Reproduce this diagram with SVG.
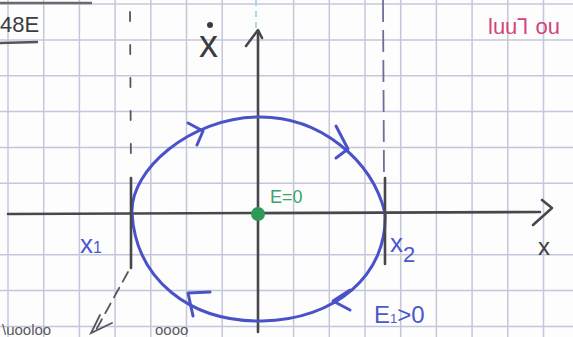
<svg xmlns="http://www.w3.org/2000/svg" width="573" height="337" viewBox="0 0 573 337">
<style>
.grid line{stroke:#c4c7d9;stroke-width:1.5}
.axis{stroke:#48484c;stroke-width:2.6;fill:none;stroke-linecap:round;stroke-linejoin:round}
.orbit{stroke:#4a52c8;stroke-width:3;fill:none;stroke-linecap:round;stroke-linejoin:round}
.dash{stroke:#55565e;stroke-width:1.8;fill:none;stroke-linecap:round}
.blue{fill:#4b57cc;font-family:"Liberation Sans",sans-serif}
.ink{fill:#3c3c40;font-family:"Liberation Sans",sans-serif}
</style>
<rect width="573" height="337" fill="#fdfdfe"/>
<g class="grid">
<line x1="8" y1="0" x2="8" y2="337"/><line x1="43.7" y1="0" x2="43.7" y2="337"/><line x1="79.4" y1="0" x2="79.4" y2="337"/><line x1="115.1" y1="0" x2="115.1" y2="337"/><line x1="150.8" y1="0" x2="150.8" y2="337"/><line x1="186.5" y1="0" x2="186.5" y2="337"/><line x1="222.2" y1="0" x2="222.2" y2="337"/><line x1="293.6" y1="0" x2="293.6" y2="337"/><line x1="329.3" y1="0" x2="329.3" y2="337"/><line x1="365" y1="0" x2="365" y2="337"/><line x1="400.7" y1="0" x2="400.7" y2="337"/><line x1="436.4" y1="0" x2="436.4" y2="337"/><line x1="472.1" y1="0" x2="472.1" y2="337"/><line x1="507.8" y1="0" x2="507.8" y2="337"/><line x1="543.5" y1="0" x2="543.5" y2="337"/>
<line x1="0" y1="4" x2="573" y2="4"/><line x1="0" y1="40" x2="573" y2="40"/><line x1="0" y1="75.8" x2="573" y2="75.8"/><line x1="0" y1="111.6" x2="573" y2="111.6"/><line x1="0" y1="147.4" x2="573" y2="147.4"/><line x1="0" y1="183.2" x2="573" y2="183.2"/><line x1="0" y1="254.8" x2="573" y2="254.8"/><line x1="0" y1="290.6" x2="573" y2="290.6"/><line x1="0" y1="326.4" x2="573" y2="326.4"/>
</g>
<g id="top-marks">
<line x1="0" y1="3" x2="92" y2="3" stroke="#6a6a70" stroke-width="2.5"/>
<text x="0" y="32" class="ink" font-size="22">48E</text>
<line x1="0" y1="43" x2="38" y2="42" stroke="#55555a" stroke-width="2.5"/>
<text x="488" y="34" fill="#d3447a" font-family="Liberation Sans,sans-serif" font-size="22">luuꞀ ou</text>
<line x1="256" y1="0" x2="256" y2="28" stroke="#a9dbe6" stroke-width="2" stroke-dasharray="6 5"/>
</g>
<g id="connectors">
<line x1="130" y1="12" x2="131" y2="175" class="dash" stroke-dasharray="9 24"/>
<line x1="383" y1="0" x2="384" y2="178" stroke="#6d6f9a" stroke-width="1.8" stroke-dasharray="22 8"/>
<path d="M128,272 L96,330" class="dash" stroke-dasharray="11 7"/>
<path d="M100,315 L91,333 L112,323" class="dash"/>
</g>
<g id="axes">
<path d="M8,214 L540,212" class="axis"/>
<path d="M542,200 L552,208 L533,225" class="axis"/>
<path d="M258,332 L258,31" class="axis"/>
<path d="M246,46 L258,30 L262,38" class="axis"/>
<text x="199" y="57" class="ink" font-size="38">x</text>
<circle cx="210" cy="25" r="3" fill="#3c3c40"/>
<text x="538" y="255" class="ink" font-size="24">x</text>
</g>
<g id="orbit">
<path d="M132,213 C130,170 190,118 258,117 C320,116 372,160 385,213 C388,275 335,320 262,321 C190,322 136,280 132,213 Z" class="orbit"/>
<path d="M188,123 L203,131 L197,145" class="orbit"/>
<path d="M336,126 L348,149 L336,158" class="orbit"/>
<path d="M350,290 L333,301 L350,310" class="orbit"/>
<path d="M210,292 L188,293 L193,316" class="orbit"/>
</g>
<g id="x1">
<line x1="131" y1="178" x2="131" y2="268" class="axis"/>
<text x="80" y="253" class="blue" font-size="26">x<tspan font-size="16">1</tspan></text>
</g>
<g id="x2">
<line x1="385" y1="178" x2="385" y2="264" class="axis"/>
<text x="390" y="252" class="blue" font-size="26">x<tspan font-size="22" dy="10">2</tspan></text>
</g>
<g id="E1">
<text x="374" y="323" class="blue" font-size="24">E<tspan font-size="13">1</tspan>&gt;0</text>
</g>
<g id="equilibrium">
<circle cx="258" cy="214" r="7" fill="#2f9a58"/>
<text x="270" y="203" fill="#3aa36a" font-family="Liberation Sans,sans-serif" font-size="18">E=0</text>
</g>
<g id="bottom-marks">
<text x="2" y="335" fill="#5a5a60" font-family="Liberation Sans,sans-serif" font-size="15">\uooloo</text>
<text x="155" y="335" fill="#5a5a60" font-family="Liberation Sans,sans-serif" font-size="15">oooo</text>
</g>
</svg>
